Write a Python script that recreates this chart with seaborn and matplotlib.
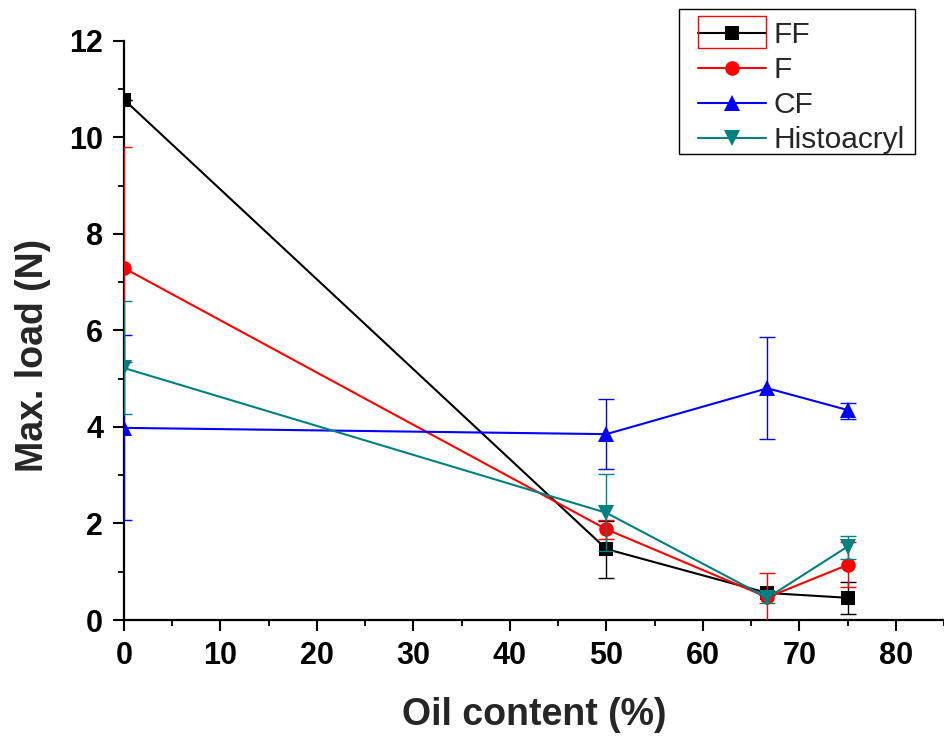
import numpy as np
import pandas as pd
import matplotlib
matplotlib.use("Agg")
import matplotlib.pyplot as plt
from matplotlib.patches import Rectangle
from matplotlib.ticker import MultipleLocator
import seaborn as sns

# oil content (%) of the formulations
oil = [0, 50, 66.7, 75]

samples = ["FF", "F", "CF", "Histoacryl"]

# mean max. load (N)
ff_load = [10.78, 1.47, 0.56, 0.46]
f_load = [7.29, 1.88, 0.47, 1.14]
cf_load = [3.98, 3.85, 4.80, 4.35]
histo_load = [5.22, 2.22, 0.46, 1.52]

# error bars (lower / upper)
ff_err_lo = [0.0, 0.59, 0.05, 0.34]
ff_err_hi = [0.0, 0.59, 0.05, 0.33]
f_err_lo = [1.94, 0.20, 0.51, 0.45]
f_err_hi = [2.50, 0.20, 0.51, 0.48]
cf_err_lo = [1.91, 0.72, 1.06, 0.19]
cf_err_hi = [1.92, 0.73, 1.06, 0.15]
histo_err_lo = [0.95, 0.80, 0.10, 0.25]
histo_err_hi = [1.38, 0.80, 0.10, 0.22]

loads = [ff_load, f_load, cf_load, histo_load]
errs_lo = [ff_err_lo, f_err_lo, cf_err_lo, histo_err_lo]
errs_hi = [ff_err_hi, f_err_hi, cf_err_hi, histo_err_hi]

df = pd.DataFrame({
    "oil": oil * len(samples),
    "load": sum(loads, []),
    "sample": np.repeat(samples, len(oil)),
})

colors = {"FF": "#000000", "F": "#FF0000", "CF": "#0000FF", "Histoacryl": "#008080"}
markers = {"FF": "s", "F": "o", "CF": "^", "Histoacryl": "v"}
msizes = {"FF": 9.5, "F": 10.5, "CF": 12, "Histoacryl": 12}

sns.set_style("ticks")
plt.rcParams["font.family"] = ["Liberation Sans", "DejaVu Sans"]

fig = plt.figure(figsize=(9.44, 7.37), dpi=100)
ax = fig.add_axes([124 / 944, 1 - 620 / 737, 820 / 944, 579.3 / 737])

for i, s in enumerate(samples):
    sub = df[df["sample"] == s]
    sns.lineplot(data=sub, x="oil", y="load", ax=ax, color=colors[s],
                 marker=markers[s], markersize=msizes[s], markeredgewidth=0,
                 linewidth=1.5, label=s, zorder=3 + i)
    ax.errorbar(sub["oil"], sub["load"], yerr=[errs_lo[i], errs_hi[i]],
                fmt="none", ecolor=colors[s], elinewidth=1.0, capsize=6,
                capthick=1.0, zorder=2 + i)

# clip markers sitting on the y axis like the original
for ln in ax.lines:
    ln.set_clip_path(ax.patch)

ax.set_xlim(0, 85)
ax.set_ylim(0, 12)
ax.xaxis.set_major_locator(MultipleLocator(10))
ax.xaxis.set_minor_locator(MultipleLocator(5))
ax.yaxis.set_major_locator(MultipleLocator(2))
ax.yaxis.set_minor_locator(MultipleLocator(1))

sns.despine(ax=ax)
for sp in ("left", "bottom"):
    ax.spines[sp].set_linewidth(1.6)
    ax.spines[sp].set_color("black")

ax.tick_params(which="major", direction="out", length=8, width=1.5,
               labelsize=22, pad=7, colors="black")
ax.tick_params(which="minor", direction="out", length=4.5, width=1.3,
               colors="black")
for lab in ax.get_xticklabels() + ax.get_yticklabels():
    lab.set_fontweight("bold")

ax.set_xlabel("Oil content (%)", fontsize=27, fontweight="bold")
ax.set_ylabel("Max. load (N)", fontsize=27, fontweight="bold")
ax.xaxis.set_label_coords(0.5, -0.133)
ax.yaxis.set_label_coords(-0.089, 0.457)

leg = ax.legend(loc="upper right", bbox_to_anchor=(905 / 944, 1 - 21 / 737),
                bbox_transform=fig.transFigure, fontsize=21.5, frameon=False,
                handlelength=2.27, handletextpad=0.27, labelspacing=0.24,
                borderpad=0, borderaxespad=0)

# legend frame drawn by hand (wider left margin than matplotlib gives)
fig.add_artist(Rectangle((679 / 944, 1 - 154 / 737), 236 / 944, 145 / 737,
                         transform=fig.transFigure, fill=False,
                         edgecolor="black", linewidth=1.0))
# red selection box around the first legend symbol
fig.add_artist(Rectangle((698 / 944, 1 - 48 / 737), 68 / 944, 32 / 737,
                         transform=fig.transFigure, fill=False,
                         edgecolor="red", linewidth=1.0))

fig.savefig("out.png", dpi=100)
